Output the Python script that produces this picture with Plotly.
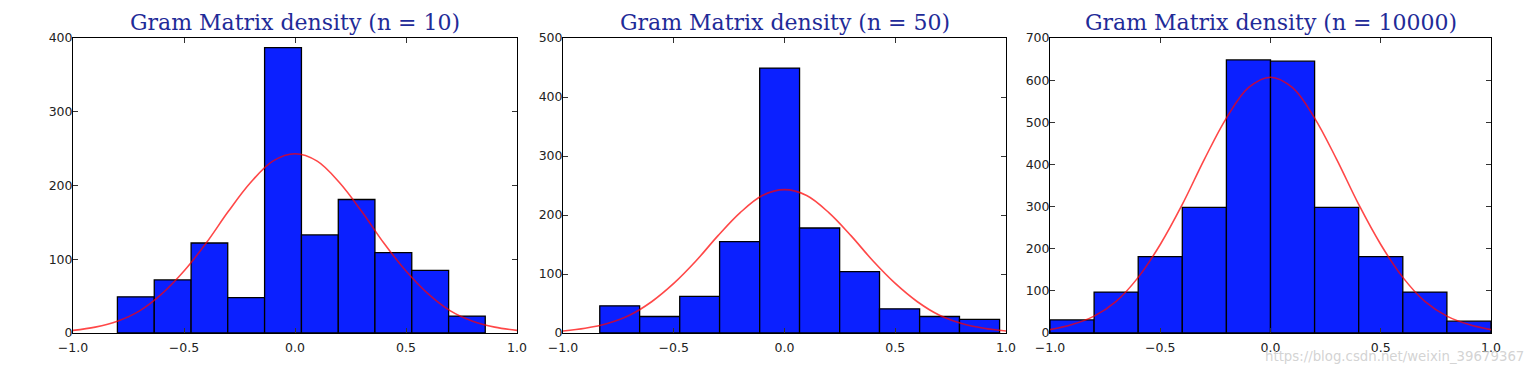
import plotly.graph_objects as go

# ---- data ----
titles = ["Gram Matrix density (n = 10)", "Gram Matrix density (n = 50)", "Gram Matrix density (n = 10000)"]

edges_n10 = [-0.800, -0.634, -0.468, -0.303, -0.137, 0.029, 0.195, 0.360, 0.526, 0.692, 0.857]
counts_n10 = [49, 72, 122, 48, 387, 133, 181, 109, 85, 23]

edges_n50 = [-0.834, -0.654, -0.473, -0.293, -0.112, 0.068, 0.249, 0.429, 0.610, 0.790, 0.971]
counts_n50 = [46, 28, 62, 155, 449, 178, 104, 41, 28, 23]

edges_n10000 = [-1.0, -0.8, -0.6, -0.4, -0.2, 0.0, 0.2, 0.4, 0.6, 0.8, 1.0]
counts_n10000 = [31, 97, 181, 298, 648, 645, 298, 181, 97, 28]

curve_x = [-1.0, -0.9, -0.8, -0.7, -0.6, -0.5, -0.4, -0.3, -0.2, -0.1, 0.0,
           0.1, 0.2, 0.3, 0.4, 0.5, 0.6, 0.7, 0.8, 0.9, 1.0]
curve_n10 = [3.5, 8, 16, 30, 53, 84, 122, 165, 204, 233, 243,
             233, 204, 165, 122, 84, 53, 30, 16, 8, 3.5]
curve_n50 = [3.5, 8, 16, 30, 53, 84, 122, 165, 204, 233, 243,
             233, 204, 165, 122, 84, 53, 30, 16, 8, 3.5]
curve_n10000 = [8, 20, 40, 75, 132, 210, 305, 412, 510, 582, 607,
                582, 510, 412, 305, 210, 132, 75, 40, 20, 8]

y_max = [400, 500, 700]
y_ticks = [[0, 100, 200, 300, 400], [0, 100, 200, 300, 400, 500],
           [0, 100, 200, 300, 400, 500, 600, 700]]
x_ticks = [-1.0, -0.5, 0.0, 0.5, 1.0]
x_ticklabels = ["\u22121.0", "\u22120.5", "0.0", "0.5", "1.0"]
watermark = "https://blog.csdn.net/weixin_39679367"

# ---- layout geometry (pixels) ----
W, H = 1536, 374
panels_px = [(73, 517), (563, 1006), (1050, 1491)]
top_px, bot_px = 38, 333

BAR_COLOR = "#0b20ff"
fig = go.Figure()

all_edges = [edges_n10, edges_n50, edges_n10000]
all_counts = [counts_n10, counts_n50, counts_n10000]
all_curves = [curve_n10, curve_n50, curve_n10000]

for i in range(3):
    e = all_edges[i]
    centers = [(e[k] + e[k + 1]) / 2 for k in range(len(e) - 1)]
    widths = [e[k + 1] - e[k] for k in range(len(e) - 1)]
    ax = "" if i == 0 else str(i + 1)
    fig.add_trace(go.Bar(
        x=centers, y=all_counts[i], width=widths,
        marker=dict(color=BAR_COLOR, line=dict(color="black", width=1.3)),
        xaxis="x" + ax, yaxis="y" + ax, showlegend=False, hoverinfo="skip"))
    fig.add_trace(go.Scatter(
        x=curve_x, y=all_curves[i], mode="lines",
        line=dict(color="rgba(255,0,0,0.72)", width=1.6, shape="spline"),
        xaxis="x" + ax, yaxis="y" + ax, showlegend=False, hoverinfo="skip"))

layout = dict(
    width=W, height=H, margin=dict(l=0, r=0, t=0, b=0, pad=0, autoexpand=False),
    paper_bgcolor="white", plot_bgcolor="white", bargap=0,
    showlegend=False, annotations=[],
)
y0 = (H - bot_px) / H
y1 = (H - top_px) / H
axis_common = dict(showline=True, linecolor="black", linewidth=1, mirror="ticks",
                   ticks="inside", ticklen=5, tickcolor="#333", tickwidth=1,
                   showgrid=False, zeroline=False, automargin=False,
                   tickfont=dict(family="DejaVu Sans", size=12.5, color="#222"))
for i in range(3):
    l, r = panels_px[i]
    ax = "" if i == 0 else str(i + 1)
    layout["xaxis" + ax] = dict(axis_common, domain=[l / W, r / W], range=[-1, 1],
                                tickvals=x_ticks, ticktext=x_ticklabels,
                                ticklabelstandoff=3, anchor="y" + ax)
    layout["yaxis" + ax] = dict(axis_common, domain=[y0, y1], range=[0, y_max[i]],
                                tickvals=y_ticks[i], ticktext=[str(v) for v in y_ticks[i]],
                                ticklabelstandoff=-3, anchor="x" + ax)
    layout["annotations"].append(dict(
        text=titles[i], x=(l + r) / 2 / W, y=(H - 22) / H, xref="paper", yref="paper",
        xanchor="center", yanchor="middle", showarrow=False,
        font=dict(family="DejaVu Serif", size=22, color="#1f2b98")))

layout["annotations"].append(dict(
    text=watermark, x=1526 / W, y=(H - 356) / H, xref="paper", yref="paper",
    xanchor="right", yanchor="middle", showarrow=False,
    font=dict(family="DejaVu Sans", size=13.3, color="rgba(200,200,200,0.8)")))

fig.update_layout(**layout)
fig.write_html("out.html", config={"displayModeBar": False, "staticPlot": True},
               post_script="document.body.style.margin='0';document.body.style.overflow='hidden';")
